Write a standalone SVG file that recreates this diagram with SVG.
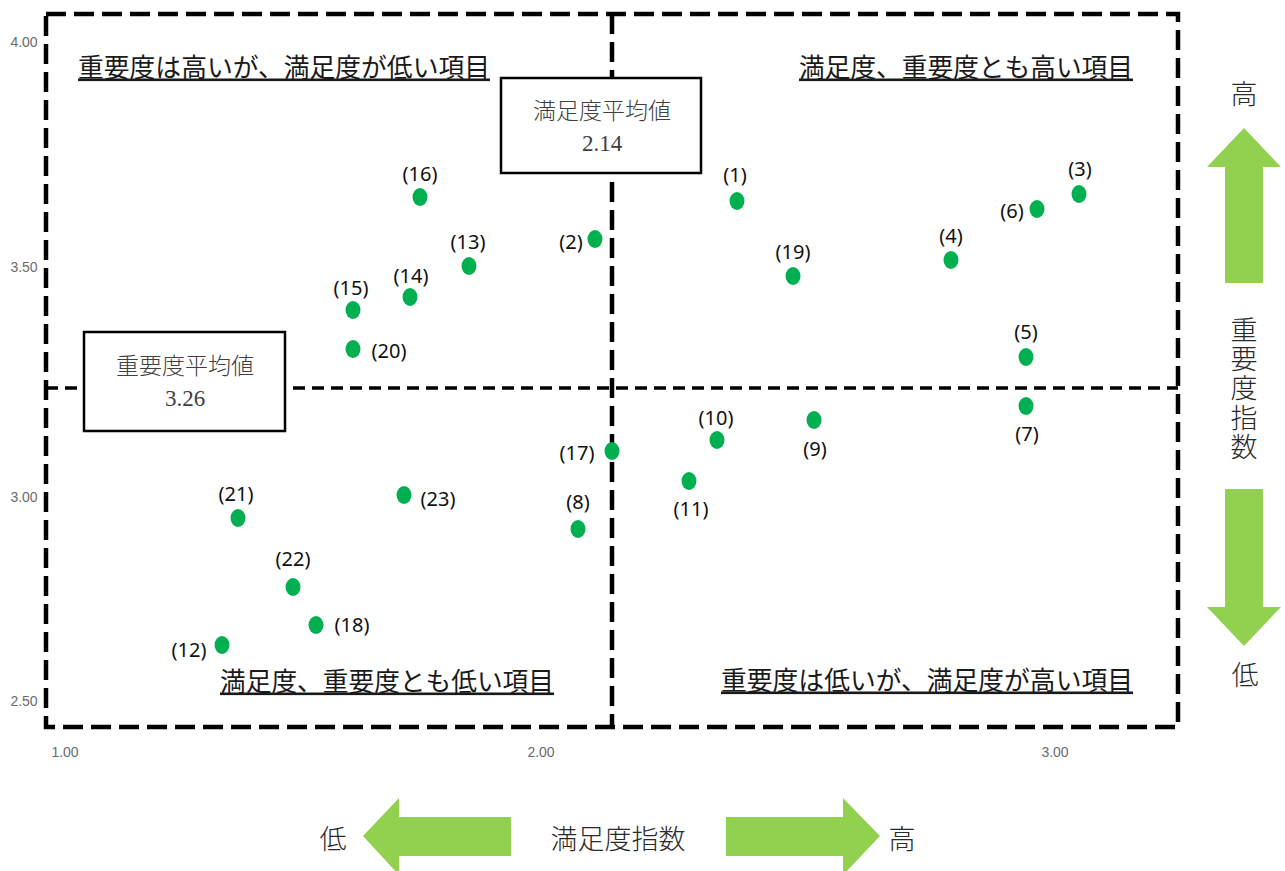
<svg xmlns="http://www.w3.org/2000/svg" width="1285" height="871" viewBox="0 0 1285 871">
<style>
.frame{fill:none;stroke:#000;stroke-width:4.5;stroke-dasharray:20 8}
.vmid{fill:none;stroke:#000;stroke-width:4.5;stroke-dasharray:20 8}
.hmid{fill:none;stroke:#000;stroke-width:3.5;stroke-dasharray:12 7}
.tick{font-family:"Liberation Sans",Arial,sans-serif;font-size:14px;fill:#6b6b6b;text-anchor:middle;dominant-baseline:central}
.quad{font-family:"Noto Sans CJK JP",sans-serif;font-size:26px;fill:#1a1a1a;dominant-baseline:central;text-decoration:underline}
.box{fill:#fff;stroke:#000;stroke-width:2.5}
.boxt{font-family:"Liberation Serif","Noto Sans CJK JP",serif;font-size:23px;fill:#404040;text-anchor:middle;dominant-baseline:central;font-weight:300}
.dot{fill:#00B050}
.lbl{font-family:"Noto Sans","Open Sans",sans-serif;font-size:20px;fill:#111;text-anchor:middle;dominant-baseline:central}
.arr{fill:#92D050}
.axis{font-family:"Noto Sans CJK JP",sans-serif;font-size:27px;fill:#2a2a2a;text-anchor:middle;dominant-baseline:central;font-weight:300}
.vaxis{font-family:"Noto Sans CJK JP",sans-serif;font-size:27px;fill:#2a2a2a;writing-mode:vertical-rl;letter-spacing:2.3px;font-weight:300}
</style>
<rect x="0" y="0" width="1285" height="871" fill="#fff"/>

<g id="grid">
  <rect class="frame" x="46" y="14" width="1132" height="713"/>
  <line class="hmid" x1="46" y1="388" x2="1178" y2="388"/>
  <line class="vmid" x1="612" y1="14" x2="612" y2="727"/>
</g>

<g id="ticks">
  <text class="tick" x="24" y="42">4.00</text>
  <text class="tick" x="24" y="267">3.50</text>
  <text class="tick" x="24" y="497">3.00</text>
  <text class="tick" x="24" y="701">2.50</text>
  <text class="tick" x="65" y="752">1.00</text>
  <text class="tick" x="541" y="752">2.00</text>
  <text class="tick" x="1055" y="752">3.00</text>
</g>

<g id="quadrant-labels">
  <text class="quad" x="78" y="65" textLength="412" lengthAdjust="spacingAndGlyphs">重要度は高いが、満足度が低い項目</text>
  <text class="quad" x="799" y="65" textLength="334" lengthAdjust="spacingAndGlyphs">満足度、重要度とも高い項目</text>
  <text class="quad" x="220" y="679" textLength="334" lengthAdjust="spacingAndGlyphs">満足度、重要度とも低い項目</text>
  <text class="quad" x="721" y="678" textLength="412" lengthAdjust="spacingAndGlyphs">重要度は低いが、満足度が高い項目</text>
</g>

<g id="satisfaction-mean">
  <rect class="box" x="501" y="78" width="200" height="95"/>
  <text class="boxt" x="602" y="111">満足度平均値</text>
  <text class="boxt" x="602" y="143">2.14</text>
</g>
<g id="importance-mean">
  <rect class="box" x="84" y="332" width="201" height="99"/>
  <text class="boxt" x="185" y="366">重要度平均値</text>
  <text class="boxt" x="185" y="398">3.26</text>
</g>

<g id="points">
  <g id="p1"><ellipse class="dot" cx="737" cy="201" rx="7.5" ry="9"/><text class="lbl" x="735" y="174">(1)</text></g>
  <g id="p2"><ellipse class="dot" cx="595" cy="239" rx="7.5" ry="9"/><text class="lbl" x="571" y="241">(2)</text></g>
  <g id="p3"><ellipse class="dot" cx="1079" cy="194" rx="7.5" ry="9"/><text class="lbl" x="1080" y="168">(3)</text></g>
  <g id="p4"><ellipse class="dot" cx="951" cy="260" rx="7.5" ry="9"/><text class="lbl" x="951" y="235">(4)</text></g>
  <g id="p5"><ellipse class="dot" cx="1026" cy="357" rx="7.5" ry="9"/><text class="lbl" x="1026" y="331">(5)</text></g>
  <g id="p6"><ellipse class="dot" cx="1037" cy="209" rx="7.5" ry="9"/><text class="lbl" x="1012" y="210">(6)</text></g>
  <g id="p7"><ellipse class="dot" cx="1026" cy="406" rx="7.5" ry="9"/><text class="lbl" x="1027" y="433">(7)</text></g>
  <g id="p8"><ellipse class="dot" cx="578" cy="529" rx="7.5" ry="9"/><text class="lbl" x="578" y="501">(8)</text></g>
  <g id="p9"><ellipse class="dot" cx="814" cy="420" rx="7.5" ry="9"/><text class="lbl" x="815" y="448">(9)</text></g>
  <g id="p10"><ellipse class="dot" cx="717" cy="440" rx="7.5" ry="9"/><text class="lbl" x="716" y="417">(10)</text></g>
  <g id="p11"><ellipse class="dot" cx="689" cy="481" rx="7.5" ry="9"/><text class="lbl" x="691" y="508">(11)</text></g>
  <g id="p12"><ellipse class="dot" cx="222" cy="645" rx="7.5" ry="9"/><text class="lbl" x="189" y="649">(12)</text></g>
  <g id="p13"><ellipse class="dot" cx="469" cy="266" rx="7.5" ry="9"/><text class="lbl" x="468" y="241">(13)</text></g>
  <g id="p14"><ellipse class="dot" cx="410" cy="297" rx="7.5" ry="9"/><text class="lbl" x="411" y="275">(14)</text></g>
  <g id="p15"><ellipse class="dot" cx="353" cy="310" rx="7.5" ry="9"/><text class="lbl" x="351" y="287">(15)</text></g>
  <g id="p16"><ellipse class="dot" cx="420" cy="197" rx="7.5" ry="9"/><text class="lbl" x="420" y="173">(16)</text></g>
  <g id="p17"><ellipse class="dot" cx="612" cy="451" rx="7.5" ry="9"/><text class="lbl" x="577" y="452">(17)</text></g>
  <g id="p18"><ellipse class="dot" cx="316" cy="625" rx="7.5" ry="9"/><text class="lbl" x="352" y="624">(18)</text></g>
  <g id="p19"><ellipse class="dot" cx="793" cy="276" rx="7.5" ry="9"/><text class="lbl" x="793" y="251">(19)</text></g>
  <g id="p20"><ellipse class="dot" cx="353" cy="349" rx="7.5" ry="9"/><text class="lbl" x="389" y="350">(20)</text></g>
  <g id="p21"><ellipse class="dot" cx="238" cy="518" rx="7.5" ry="9"/><text class="lbl" x="236" y="493">(21)</text></g>
  <g id="p22"><ellipse class="dot" cx="293" cy="587" rx="7.5" ry="9"/><text class="lbl" x="293" y="558">(22)</text></g>
  <g id="p23"><ellipse class="dot" cx="404" cy="495" rx="7.5" ry="9"/><text class="lbl" x="438" y="498">(23)</text></g>
</g>

<g id="importance-axis">
  <text class="axis" x="1244" y="92">高</text>
  <polygon class="arr" points="1244,128 1281,167 1263,167 1263,283 1225,283 1225,167 1207,167"/>
  <text class="vaxis" x="1244" y="316">重要度指数</text>
  <polygon class="arr" points="1225,489 1263,489 1263,607 1281,607 1244,646 1207,607 1225,607"/>
  <text class="axis" x="1245" y="673">低</text>
</g>

<g id="satisfaction-axis">
  <text class="axis" x="333" y="837">低</text>
  <polygon class="arr" points="363,836 399,798 399,817 511,817 511,856 399,856 399,875"/>
  <text class="axis" x="618" y="837">満足度指数</text>
  <polygon class="arr" points="726,817 843,817 843,798 880,836 843,875 843,856 726,856"/>
  <text class="axis" x="902" y="837">高</text>
</g>
</svg>
